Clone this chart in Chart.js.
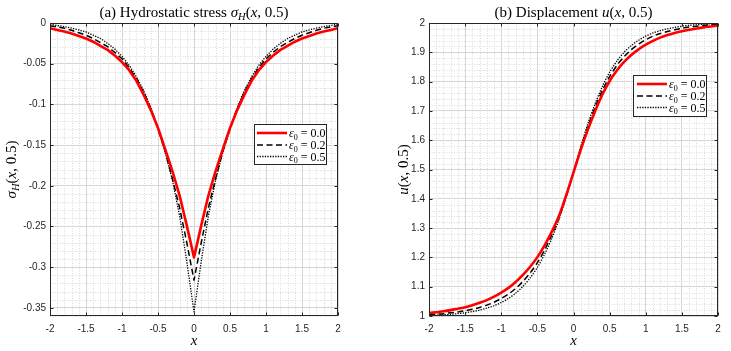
<!DOCTYPE html>
<html><head><meta charset="utf-8">
<script src="https://cdn.jsdelivr.net/npm/chart.js@4/dist/chart.umd.min.js"></script>
<style>
html,body{margin:0;padding:0;background:#fff;}
#wrap{position:relative;width:731px;height:351px;overflow:hidden;}
canvas{position:absolute;top:0;}
#c1{left:0;} #c2{left:365px;}
</style></head><body>
<div id="wrap"><canvas id="c1" width="365" height="351"></canvas><canvas id="c2" width="366" height="351"></canvas></div>
<script>
// ---------- data ----------
const xValues = [-2,-1.9,-1.8,-1.7,-1.6,-1.5,-1.4,-1.3,-1.2,-1.1,-1,-0.9,-0.8,-0.7,-0.6,-0.5,-0.4,-0.3,-0.2,-0.1,0,0.1,0.2,0.3,0.4,0.5,0.6,0.7,0.8,0.9,1,1.1,1.2,1.3,1.4,1.5,1.6,1.7,1.8,1.9,2];

const stressEps00 = [-0.0065,-0.0085,-0.0105,-0.013,-0.016,-0.019,-0.023,-0.028,-0.033,-0.040,-0.048,-0.058,-0.071,-0.088,-0.107,-0.129,-0.155,-0.182,-0.212,-0.249,-0.288,-0.249,-0.212,-0.182,-0.155,-0.129,-0.107,-0.088,-0.071,-0.058,-0.048,-0.040,-0.033,-0.028,-0.023,-0.019,-0.016,-0.013,-0.0105,-0.0085,-0.0065];
const stressEps02 = [-0.0033,-0.0048,-0.0065,-0.009,-0.012,-0.015,-0.019,-0.024,-0.029,-0.036,-0.044,-0.055,-0.068,-0.085,-0.105,-0.130,-0.158,-0.191,-0.227,-0.270,-0.316,-0.270,-0.227,-0.191,-0.158,-0.130,-0.105,-0.085,-0.068,-0.055,-0.044,-0.036,-0.029,-0.024,-0.019,-0.015,-0.012,-0.009,-0.0065,-0.0048,-0.0033];
const stressEps05 = [-0.0016,-0.003,-0.0045,-0.0063,-0.0085,-0.011,-0.015,-0.019,-0.025,-0.032,-0.041,-0.052,-0.066,-0.083,-0.104,-0.130,-0.159,-0.193,-0.237,-0.293,-0.355,-0.293,-0.237,-0.193,-0.159,-0.130,-0.104,-0.083,-0.066,-0.052,-0.041,-0.032,-0.025,-0.019,-0.015,-0.011,-0.0085,-0.0063,-0.0045,-0.003,-0.0016];

const dispEps00 = [1.010,1.013,1.016,1.020,1.025,1.030,1.037,1.045,1.054,1.066,1.080,1.096,1.116,1.140,1.168,1.201,1.241,1.288,1.342,1.413,1.490,1.567,1.637,1.700,1.756,1.802,1.838,1.867,1.891,1.910,1.926,1.939,1.950,1.959,1.966,1.972,1.977,1.981,1.985,1.988,1.991];
const dispEps02 = [1.004,1.006,1.008,1.011,1.014,1.018,1.023,1.029,1.037,1.047,1.060,1.075,1.094,1.118,1.147,1.182,1.225,1.277,1.337,1.410,1.490,1.572,1.647,1.713,1.770,1.817,1.855,1.885,1.909,1.928,1.943,1.955,1.964,1.971,1.977,1.982,1.986,1.989,1.992,1.994,1.996];
const dispEps05 = [1.002,1.003,1.004,1.006,1.008,1.011,1.015,1.020,1.027,1.035,1.046,1.060,1.078,1.101,1.130,1.166,1.211,1.265,1.330,1.407,1.490,1.578,1.657,1.725,1.784,1.832,1.870,1.900,1.923,1.941,1.955,1.966,1.974,1.980,1.985,1.989,1.992,1.994,1.996,1.997,1.998];

const epsLabels = ['0.0','0.2','0.5'];
const xTicks = [-2,-1.5,-1,-0.5,0,0.5,1,1.5,2];
const stressTicks = [-0.35,-0.3,-0.25,-0.2,-0.15,-0.1,-0.05,0];
const dispTicks = [1,1.1,1.2,1.3,1.4,1.5,1.6,1.7,1.8,1.9,2];

// ---------- styles ----------
const SERIF = '"Liberation Serif","DejaVu Serif",serif';
const SANS = '"Liberation Sans",Arial,sans-serif';
const AXC = '#262626';
const seriesStyle = [
  {color:'#ff0000', width:2.6, dash:[]},
  {color:'#000000', width:1.5, dash:[6,3.5]},
  {color:'#000000', width:1.3, dash:[1.3,1.3]}
];

function drawRich(ctx, parts, x, y, align){
  let widths = parts.map(p=>{ctx.font=p.f; return ctx.measureText(p.t).width;});
  let total = widths.reduce((a,b)=>a+b,0);
  let cx = align==='center' ? x-total/2 : (align==='right' ? x-total : x);
  ctx.textAlign='left'; ctx.textBaseline='alphabetic';
  parts.forEach((p,i)=>{ctx.font=p.f; ctx.fillText(p.t, cx, y+(p.dy||0)); cx+=widths[i];});
}
const N = s=>`${s}px ${SERIF}`, I = s=>`italic ${s}px ${SERIF}`;

function makeDecor(cfg){
  return {
    id:'decor'+cfg.key,
    beforeDatasetsDraw(chart){
      const {ctx, chartArea:a, scales:{x,y}} = chart;
      ctx.save();
      ctx.strokeStyle='#dadada'; ctx.lineWidth=1; ctx.setLineDash([1,1.5]);
      // minor grid
      for(let k=-20;k<=20;k++){
        if(k%5===0) continue;
        const px=Math.round(x.getPixelForValue(k/10))+0.5;
        ctx.beginPath(); ctx.moveTo(px,a.top); ctx.lineTo(px,a.bottom); ctx.stroke();
      }
      for(let k=0;k<=cfg.minorCount;k++){
        const v = cfg.minorStart + k*cfg.minorStep;
        if(v<y.min-1e-9||v>y.max+1e-9) continue;
        if(cfg.majors.some(m=>Math.abs(m-v)<1e-6)) continue;
        const py=Math.round(y.getPixelForValue(v))+0.5;
        ctx.beginPath(); ctx.moveTo(a.left,py); ctx.lineTo(a.right,py); ctx.stroke();
      }
      ctx.restore();
    },
    afterDatasetsDraw(chart){
      const {ctx, chartArea:a, scales:{x,y}} = chart;
      ctx.save();
      ctx.setLineDash([]);
      ctx.strokeStyle=AXC; ctx.lineWidth=1;
      const L=Math.round(a.left)+0.5, R=Math.round(a.right)-0.5, T=Math.round(a.top)+0.5, B=Math.round(a.bottom)-0.5;
      ctx.strokeRect(L,T,R-L,B-T);
      ctx.beginPath();
      xTicks.forEach(v=>{const px=Math.round(x.getPixelForValue(v))+0.5; ctx.moveTo(px,B); ctx.lineTo(px,B-3); ctx.moveTo(px,T); ctx.lineTo(px,T+3);});
      cfg.majors.forEach(v=>{const py=Math.round(y.getPixelForValue(v))+0.5; ctx.moveTo(L,py); ctx.lineTo(L+3,py); ctx.moveTo(R,py); ctx.lineTo(R-3,py);});
      ctx.stroke();
      // legend
      const g=cfg.legend;
      ctx.fillStyle='#fff'; ctx.fillRect(g.x0,g.y0,g.x1-g.x0,g.y1-g.y0);
      ctx.strokeStyle=AXC; ctx.lineWidth=1; ctx.strokeRect(g.x0,g.y0,g.x1-g.x0,g.y1-g.y0);
      epsLabels.forEach((lab,i)=>{
        const st=seriesStyle[i], ry=g.rows[i];
        ctx.strokeStyle=st.color; ctx.lineWidth=st.width; ctx.setLineDash(st.dash);
        ctx.beginPath(); ctx.moveTo(g.lx0,ry); ctx.lineTo(g.lx1,ry); ctx.stroke();
        ctx.setLineDash([]);
        ctx.fillStyle='#000';
        drawRich(ctx,[{t:'ε',f:I(12)},{t:'0',f:N(8),dy:2.5},{t:' = '+lab,f:N(12)}], g.tx, ry+4, 'left');
      });
      ctx.restore();
    },
    afterDraw(chart){
      const {ctx, chartArea:a} = chart;
      ctx.save(); ctx.fillStyle='#000';
      const cx=(a.left+a.right)/2;
      drawRich(ctx, cfg.title, cx, 17, 'center');
      drawRich(ctx, [{t:'x',f:I(15)}], cx, 345, 'center');
      ctx.translate(cfg.ylabX,(a.top+a.bottom)/2); ctx.rotate(-Math.PI/2);
      drawRich(ctx, cfg.ylab, 0, 5, 'center');
      ctx.restore();
    }
  };
}

function makeChart(canvas, series, cfg){
  const fmt = v=>String(Math.round(v*1000)/1000);
  return new Chart(canvas,{
    type:'line',
    data:{datasets: series.map((arr,i)=>({
      label:'ε0 = '+epsLabels[i],
      data: xValues.map((xv,j)=>({x:xv,y:arr[j]})),
      borderColor:seriesStyle[i].color, borderWidth:seriesStyle[i].width, borderDash:seriesStyle[i].dash,
      pointRadius:0, fill:false, tension:cfg.tension, borderCapStyle:'butt', borderJoinStyle:'round'
    }))},
    options:{
      responsive:false, animation:false, devicePixelRatio:1,
      layout:{padding:{left:0,top:23,right:cfg.padRight,bottom:0}},
      plugins:{legend:{display:false},tooltip:{enabled:false},title:{display:false}},
      scales:{
        x:{type:'linear',min:-2,max:2,
          afterBuildTicks:s=>{s.ticks=xTicks.map(v=>({value:v}));},
          afterFit:s=>{s.height=35;},
          grid:{color:'#d6d6d6',drawTicks:false,lineWidth:1},
          border:{display:false},
          ticks:{padding:7,color:AXC,font:{family:SANS,size:10},maxRotation:0,autoSkip:false,callback:fmt}},
        y:{type:'linear',min:cfg.ymin,max:cfg.ymax,
          afterBuildTicks:s=>{s.ticks=cfg.majors.map(v=>({value:v}));},
          afterFit:s=>{s.width=cfg.yWidth;},
          grid:{color:'#d6d6d6',drawTicks:false,lineWidth:1},
          border:{display:false},
          ticks:{padding:4,color:AXC,font:{family:SANS,size:10},autoSkip:false,callback:fmt}}
      }
    },
    plugins:[makeDecor(cfg)]
  });
}

makeChart(document.getElementById('c1'), [stressEps00,stressEps02,stressEps05], {
  key:1, tension:0, padRight:27, yWidth:50, ymin:-0.36, ymax:0, majors:stressTicks,
  minorStart:-0.36, minorStep:0.01, minorCount:36,
  legend:{x0:254.5,y0:124.5,x1:326.5,y1:164.5,rows:[133,145,156.5],lx0:257,lx1:287,tx:289},
  title:[{t:'(a) Hydrostatic stress ',f:N(15)},{t:'σ',f:I(15)},{t:'H',f:I(10.5),dy:3},{t:'(',f:N(15)},{t:'x',f:I(15)},{t:', 0.5)',f:N(15)}],
  ylabX:11,
  ylab:[{t:'σ',f:I(15)},{t:'H',f:I(10.5),dy:3},{t:'(',f:N(15)},{t:'x',f:I(15)},{t:', 0.5)',f:N(15)}]
});
makeChart(document.getElementById('c2'), [dispEps00,dispEps02,dispEps05], {
  key:2, tension:0.3, padRight:13, yWidth:64, ymin:1, ymax:2, majors:dispTicks,
  minorStart:1, minorStep:0.02, minorCount:50,
  legend:{x0:268.5,y0:75.5,x1:341.5,y1:116.5,rows:[84,96,107.5],lx0:272,lx1:302,tx:304},
  title:[{t:'(b) Displacement ',f:N(15)},{t:'u',f:I(15)},{t:'(',f:N(15)},{t:'x',f:I(15)},{t:', 0.5)',f:N(15)}],
  ylabX:38,
  ylab:[{t:'u',f:I(15)},{t:'(',f:N(15)},{t:'x',f:I(15)},{t:', 0.5)',f:N(15)}]
});
</script>
</body></html>
